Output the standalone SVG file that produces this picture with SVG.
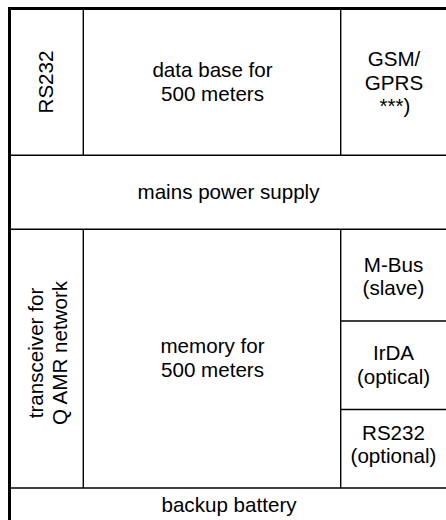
<svg xmlns="http://www.w3.org/2000/svg" width="446" height="520" viewBox="0 0 446 520">
<style>
.t{font-family:"Liberation Sans",Arial,sans-serif;font-size:20.6px;fill:#000;text-anchor:middle}
.ln{stroke:#000;stroke-width:1.4;fill:none}
.fr{stroke:#000;stroke-width:3;fill:none}
</style>
<rect width="446" height="520" fill="#fff"/>
<g id="connectors">
<path class="fr" d="M9.5,520 V8.5 H446"/>
<path class="ln" d="M11,155.3 H446 M11,229.3 H446 M11,488 H446"/>
<path class="ln" d="M83.3,10 V155.3 M83.3,229.3 V488 M340.7,10 V155.3 M340.7,229.3 V488"/>
<path class="ln" d="M340.7,321 H446 M340.7,409.5 H446"/>
</g>
<g id="rs232-top"><text class="t" transform="translate(53,82) rotate(-90)">RS232</text></g>
<g id="database"><text class="t" x="212.5" y="76.7">data base for</text><text class="t" x="212.5" y="100.7">500 meters</text></g>
<g id="gsm"><text class="t" x="394" y="66">GSM/</text><text class="t" x="394" y="90">GPRS</text><text class="t" x="395" y="113">***)</text></g>
<g id="mains"><text class="t" x="228.5" y="198.5">mains power supply</text></g>
<g id="transceiver"><text class="t" transform="translate(43,353) rotate(-90)">transceiver for</text><text class="t" transform="translate(67,353) rotate(-90)">Q AMR network</text></g>
<g id="memory"><text class="t" x="212.5" y="353">memory for</text><text class="t" x="212.5" y="377">500 meters</text></g>
<g id="mbus"><text class="t" x="393.5" y="271.7">M-Bus</text><text class="t" x="393.5" y="295">(slave)</text></g>
<g id="irda"><text class="t" x="393.5" y="360">IrDA</text><text class="t" x="393.5" y="383.5">(optical)</text></g>
<g id="rs232-opt"><text class="t" x="393.5" y="439.5">RS232</text><text class="t" x="393.5" y="463">(optional)</text></g>
<g id="battery"><text class="t" x="229" y="511.7">backup battery</text></g>
</svg>
